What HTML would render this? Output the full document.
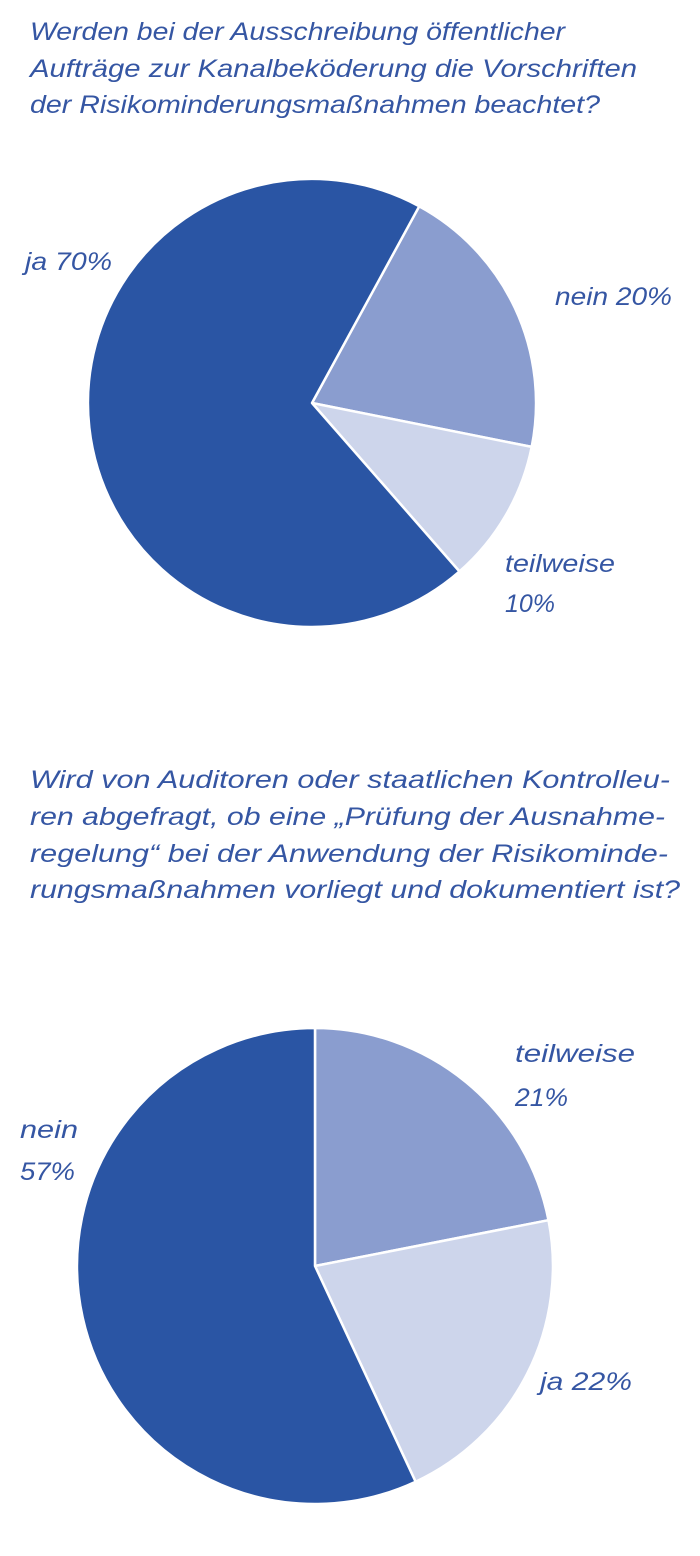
<!DOCTYPE html>
<html><head><meta charset="utf-8"><style>
html,body{margin:0;padding:0;background:#fff;width:700px;height:1556px;overflow:hidden}
text{font-family:"Liberation Sans Narrow","Liberation Sans",sans-serif;font-style:italic;fill:#3556a3;font-size:25px}
</style></head><body>
<svg width="700" height="1556" viewBox="0 0 700 1556" xmlns="http://www.w3.org/2000/svg">
<text x="30" y="40" textLength="535" lengthAdjust="spacingAndGlyphs">Werden bei der Ausschreibung öffentlicher</text>
<text x="30" y="77" textLength="607" lengthAdjust="spacingAndGlyphs">Aufträge zur Kanalbeköderung die Vorschriften</text>
<text x="30" y="113" textLength="570" lengthAdjust="spacingAndGlyphs">der Risikominderungsmaßnahmen beachtet?</text>

<g stroke="#fff" stroke-width="2.5" stroke-linejoin="round">
<path d="M312,403 L419.2,206.3 A224,224 0 0 1 531.7,446.9 Z" fill="#8a9dcf"/>
<path d="M312,403 L531.7,446.9 A224,224 0 0 1 459.5,571.5 Z" fill="#cdd5eb"/>
<path d="M312,403 L459.5,571.5 A224,224 0 1 1 419.2,206.3 Z" fill="#2a55a4"/>
</g>
<text x="25" y="270" textLength="87" lengthAdjust="spacingAndGlyphs">ja 70%</text>
<text x="555" y="305" textLength="117" lengthAdjust="spacingAndGlyphs">nein 20%</text>
<text x="505" y="572" textLength="110" lengthAdjust="spacingAndGlyphs">teilweise</text>
<text x="505" y="612" textLength="50" lengthAdjust="spacingAndGlyphs">10%</text>

<text x="30" y="788" textLength="640" lengthAdjust="spacingAndGlyphs">Wird von Auditoren oder staatlichen Kontrolleu-</text>
<text x="30" y="825" textLength="635" lengthAdjust="spacingAndGlyphs">ren abgefragt, ob eine „Prüfung der Ausnahme-</text>
<text x="30" y="862" textLength="638" lengthAdjust="spacingAndGlyphs">regelung“ bei der Anwendung der Risikominde-</text>
<text x="30" y="898" textLength="650" lengthAdjust="spacingAndGlyphs">rungsmaßnahmen vorliegt und dokumentiert ist?</text>

<g stroke="#fff" stroke-width="2.5" stroke-linejoin="round">
<path d="M315,1266 L315,1028 A238,238 0 0 1 548.5,1220.2 Z" fill="#8a9dcf"/>
<path d="M315,1266 L548.5,1220.2 A238,238 0 0 1 415.6,1481.7 Z" fill="#cdd5eb"/>
<path d="M315,1266 L415.6,1481.7 A238,238 0 1 1 315,1028 Z" fill="#2a55a4"/>
</g>
<text x="515" y="1062" textLength="120" lengthAdjust="spacingAndGlyphs">teilweise</text>
<text x="515" y="1106" textLength="53" lengthAdjust="spacingAndGlyphs">21%</text>
<text x="20" y="1138" textLength="58" lengthAdjust="spacingAndGlyphs">nein</text>
<text x="20" y="1180" textLength="55" lengthAdjust="spacingAndGlyphs">57%</text>
<text x="540" y="1390" textLength="92" lengthAdjust="spacingAndGlyphs">ja 22%</text>
</svg>
</body></html>
